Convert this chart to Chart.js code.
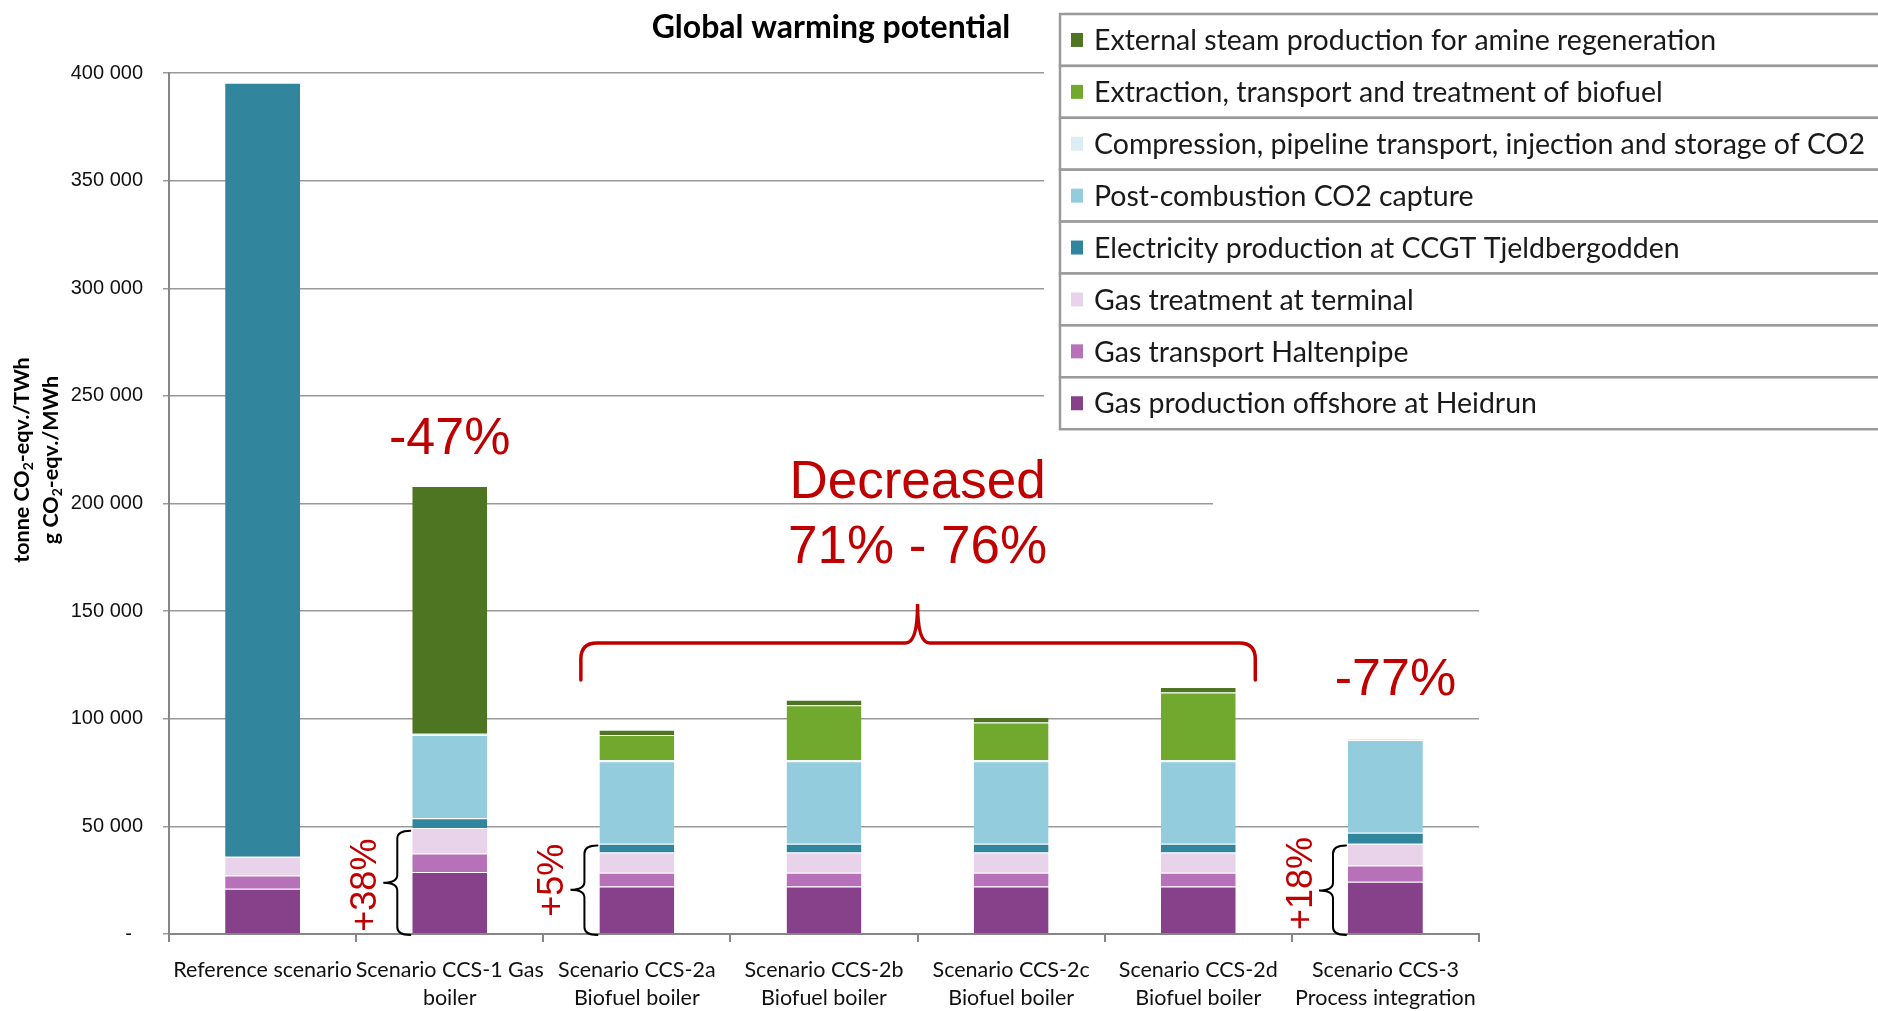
<!DOCTYPE html>
<html>
<head>
<meta charset="utf-8">
<title>Global warming potential</title>
<script src="https://cdn.jsdelivr.net/npm/chart.js@4.4.1/dist/chart.umd.min.js"></script>
<style>
  html, body { margin: 0; padding: 0; background: #fff; }
  #wrap { width: 1878px; height: 1011px; }
</style>
</head>
<body>
<div id="wrap"><canvas id="gwpChart" width="1878" height="1011"></canvas></div>
<script>
// categories (x axis, two lines each)
const categories = [
  ['Reference scenario'],
  ['Scenario CCS-1 Gas', 'boiler'],
  ['Scenario CCS-2a', 'Biofuel boiler'],
  ['Scenario CCS-2b', 'Biofuel boiler'],
  ['Scenario CCS-2c', 'Biofuel boiler'],
  ['Scenario CCS-2d', 'Biofuel boiler'],
  ['Scenario CCS-3', 'Process integration']
];

// stacked contributions, g CO2-eqv./MWh (bottom of stack first)
const gasProduction  = [21000, 28800, 22100, 22100, 22100, 22100, 24300];
const gasTransport   = [6200, 8600, 6300, 6300, 6300, 6300, 7500];
const gasTreatment   = [8700, 11900, 9500, 9500, 9500, 9500, 10100];
const electricity    = [359600, 4500, 4000, 4000, 4000, 4000, 5100];
const postCombustion = [0, 38700, 38300, 38300, 38300, 38300, 43100];
const compression    = [0, 500, 500, 500, 500, 500, 900];
const biofuel        = [0, 0, 11700, 25600, 17600, 31500, 0];
const steam          = [0, 115100, 2500, 2500, 2500, 2500, 0];

const yTicks = [0, 50000, 100000, 150000, 200000, 250000, 300000, 350000, 400000];

const RED = '#C00000';

function fmt(v) {
  if (v === 0) return '-  ';
  return String(v).replace(/\B(?=(\d{3})+(?!\d))/g, ' ');
}

function seg(label, data, color) {
  return {
    label: label,
    data: data,
    backgroundColor: color,
    borderColor: 'rgba(255,255,255,0.85)',
    borderWidth: { top: 1, left: 0, right: 0, bottom: 0 },
    borderSkipped: false,
    barPercentage: 0.4,
    categoryPercentage: 1.0
  };
}

// draws text with a subscript "2", centred on x
function richText(ctx, parts, x, y, size) {
  let total = 0;
  parts.forEach(p => {
    ctx.font = 'bold ' + (p.sub ? size * 0.65 : size) + 'px Lato';
    p.w = ctx.measureText(p.t).width;
    total += p.w;
  });
  let cx = x - total / 2;
  parts.forEach(p => {
    ctx.font = 'bold ' + (p.sub ? size * 0.65 : size) + 'px Lato';
    ctx.fillText(p.t, cx, y + (p.sub ? size * 0.28 : 0));
    cx += p.w;
  });
}

function brace(ctx, tipX, vx, midX, yTop, yMid, yBot) {
  const r = 8;
  ctx.beginPath();
  ctx.moveTo(tipX, yTop);
  ctx.quadraticCurveTo(vx, yTop, vx, yTop + r);
  ctx.lineTo(vx, yMid - r);
  ctx.quadraticCurveTo(vx, yMid, midX, yMid);
  ctx.quadraticCurveTo(vx, yMid, vx, yMid + r);
  ctx.lineTo(vx, yBot - r);
  ctx.quadraticCurveTo(vx, yBot, tipX, yBot);
  ctx.stroke();
}

const extras = {
  id: 'extras',
  beforeDatasetsDraw(chart) {
    // white areas of the original slide hiding part of the grid
    const { ctx, scales: { y } } = chart;
    ctx.save();
    ctx.fillStyle = '#fff';
    ctx.fillRect(1044, 0, chart.width, y.getPixelForValue(225000));
    const t = y.getPixelForValue(210000), b = y.getPixelForValue(190000);
    ctx.fillRect(1213, t, chart.width, b - t);
    ctx.restore();
  },
  afterDraw(chart) {
    const { ctx, scales: { x, y } } = chart;
    const bars = chart.getDatasetMeta(0).data;
    ctx.save();

    // title
    ctx.fillStyle = '#000';
    ctx.textAlign = 'center';
    ctx.textBaseline = 'middle';
    ctx.font = 'bold 32px Lato';
    ctx.fillText('Global warming potential', 831, 28);

    // y axis title
    ctx.save();
    ctx.translate(0, 460);
    ctx.rotate(-Math.PI / 2);
    ctx.textAlign = 'left';
    ctx.textBaseline = 'middle';
    richText(ctx, [{ t: 'tonne CO' }, { t: '2', sub: true }, { t: '-eqv./TWh' }], 0, 22, 21.5);
    richText(ctx, [{ t: 'g CO' }, { t: '2', sub: true }, { t: '-eqv./MWh' }], 0, 51, 21.5);
    ctx.restore();

    // legend boxes
    const sets = chart.data.datasets.slice().reverse();
    const lx = 1060, ly = 14, rowH = 51.9, lw = 840;
    ctx.textAlign = 'left';
    sets.forEach((ds, i) => {
      const top = ly + i * rowH;
      ctx.fillStyle = '#fff';
      ctx.fillRect(lx, top, lw, rowH);
      ctx.strokeStyle = '#9a9a9a';
      ctx.lineWidth = 2.5;
      ctx.strokeRect(lx, top, lw, rowH);
      ctx.fillStyle = ds.backgroundColor;
      ctx.fillRect(lx + 11, top + rowH / 2 - 7, 12, 14);
      ctx.fillStyle = '#1a1a1a';
      ctx.font = '28.5px Lato';
      ctx.fillText(ds.label, lx + 34, top + rowH / 2 + 1);
    });

    // red percentages
    ctx.fillStyle = RED;
    ctx.textAlign = 'center';
    ctx.font = '52px "Liberation Sans"';
    ctx.fillText('-47%', x.getPixelForValue(1), y.getPixelForValue(229800));
    ctx.fillText('-77%', x.getPixelForValue(6) + 10, y.getPixelForValue(117900));
    ctx.font = '53px "Liberation Sans"';
    ctx.fillText('Decreased', x.getPixelForValue(3.5), y.getPixelForValue(209200));
    ctx.fillText('71% - 76%', x.getPixelForValue(3.5), y.getPixelForValue(179100));

    // red curly brace over CCS-2a..2d
    const xL = x.getPixelForValue(2) - 56, xR = x.getPixelForValue(5) + 57, xM = x.getPixelForValue(3.5);
    const yH = y.getPixelForValue(135200), yP = y.getPixelForValue(153300), yE = y.getPixelForValue(118000);
    const r = 16;
    ctx.strokeStyle = RED;
    ctx.lineWidth = 3.5;
    ctx.lineCap = 'round';
    ctx.beginPath();
    ctx.moveTo(xL, yE);
    ctx.lineTo(xL, yH + r);
    ctx.quadraticCurveTo(xL, yH, xL + r, yH);
    ctx.lineTo(xM - 12, yH);
    ctx.quadraticCurveTo(xM, yH, xM, yP);
    ctx.quadraticCurveTo(xM, yH, xM + 12, yH);
    ctx.lineTo(xR - r, yH);
    ctx.quadraticCurveTo(xR, yH, xR, yH + r);
    ctx.lineTo(xR, yE);
    ctx.stroke();

    // black braces and rotated increase labels
    const marks = [
      { i: 1, top: 48000, mid: 23800, text: '+38%', ty: 22700 },
      { i: 2, top: 41100, mid: 20600, text: '+5%', ty: 25000 },
      { i: 6, top: 41100, mid: 20200, text: '+18%', ty: 23500 }
    ];
    marks.forEach(m => {
      const left = bars[m.i].x - bars[m.i].width / 2;
      ctx.strokeStyle = '#000';
      ctx.lineWidth = 2;
      brace(ctx, left - 2, left - 15, left - 29,
        y.getPixelForValue(m.top), y.getPixelForValue(m.mid), y.getPixelForValue(0) + 1);
      ctx.save();
      ctx.translate(left - 46, y.getPixelForValue(m.ty));
      ctx.rotate(-Math.PI / 2);
      ctx.fillStyle = RED;
      ctx.font = '36px "Liberation Sans"';
      ctx.textAlign = 'center';
      ctx.textBaseline = 'middle';
      ctx.fillText(m.text, 0, 0);
      ctx.restore();
    });

    ctx.restore();
  }
};

const ctx = document.getElementById('gwpChart').getContext('2d');
new Chart(ctx, {
  type: 'bar',
  data: {
    labels: categories,
    datasets: [
      seg('Gas production offshore at Heidrun', gasProduction, '#86418A'),
      seg('Gas transport Haltenpipe', gasTransport, '#B771B9'),
      seg('Gas treatment at terminal', gasTreatment, '#E8D3EA'),
      seg('Electricity production at CCGT Tjeldbergodden', electricity, '#31859C'),
      seg('Post-combustion CO2 capture', postCombustion, '#93CDDD'),
      seg('Compression, pipeline transport, injection and storage of CO2', compression, '#DAEEF3'),
      seg('Extraction, transport and treatment of biofuel', biofuel, '#71A92F'),
      seg('External steam production for amine regeneration', steam, '#4E7522')
    ]
  },
  options: {
    responsive: false,
    animation: false,
    layout: { padding: { top: 73, right: 399, bottom: 0, left: 0 } },
    plugins: {
      legend: { display: false },
      tooltip: { enabled: false },
      title: { display: false }
    },
    scales: {
      x: {
        stacked: true,
        afterFit: s => { s.height = 77; },
        grid: { drawOnChartArea: false, drawTicks: true, tickLength: 8, color: '#868686', lineWidth: 2 },
        border: { display: true, color: '#868686', width: 2 },
        ticks: {
          autoSkip: false,
          maxRotation: 0,
          minRotation: 0,
          padding: 14,
          color: '#111',
          font: { family: 'Lato', size: 21.5, lineHeight: 1.3 }
        }
      },
      y: {
        stacked: true,
        min: 0,
        max: 400000,
        afterFit: s => { s.width = 169; },
        afterBuildTicks: s => { s.ticks = yTicks.map(v => ({ value: v })); },
        grid: { color: '#9a9a9a', lineWidth: 1.5, tickLength: 6 },
        border: { display: true, color: '#868686', width: 2 },
        ticks: {
          padding: 20,
          color: '#111',
          font: { family: 'Liberation Sans', size: 20 },
          callback: v => fmt(v)
        }
      }
    }
  },
  plugins: [extras]
});
</script>
</body>
</html>
